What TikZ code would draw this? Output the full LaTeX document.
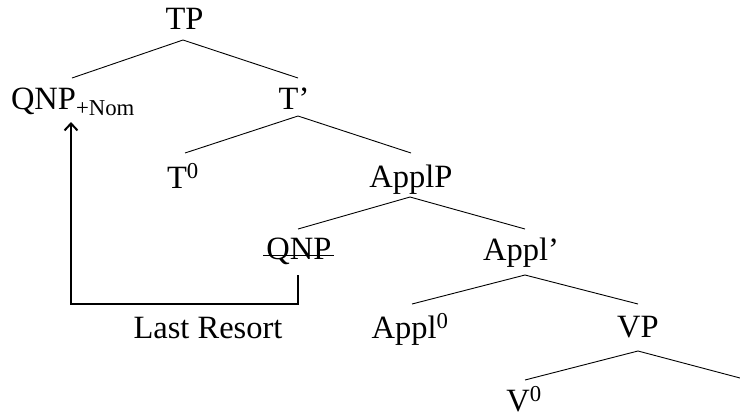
\documentclass[tikz,border=0pt]{standalone}
\usepackage{fontspec}
\setmainfont{Liberation Serif}
\usetikzlibrary{calc,arrows.meta}
\begin{document}
\begin{tikzpicture}[x=1pt,y=-1pt,
  lbl/.style={inner sep=0pt,outer sep=0pt,font=\fontsize{32.5}{38}\selectfont},
  branch/.style={line width=0.9pt},
  movearrow/.style={line width=2pt,-{Straight Barb[length=7pt,width=13pt,line width=2pt]}}]
\useasboundingbox (0,0) rectangle (740,418);
% nodes
\node[lbl,anchor=base] (TP) at (184.5,29) {TP};
\node[lbl,anchor=base west] (QNPn) at (11,109) {QNP\textsubscript{+Nom}};
\node[lbl,anchor=base] (Tbar) at (294,109) {T’};
\node[lbl,anchor=base] (T0) at (183,188) {T\textsuperscript{0}};
\node[lbl,anchor=base] (ApplP) at (411,187) {ApplP};
\node[lbl,anchor=base] (QNPt) at (299,259) {QNP};
\node[lbl,anchor=base] (Applbar) at (521,260) {Appl’};
\node[lbl,anchor=base] (Appl0) at (410,338) {Appl\textsuperscript{0}};
\node[lbl,anchor=base] (VP) at (638,337) {VP};
\node[lbl,anchor=base] (V0) at (524,411) {V\textsuperscript{0}};
\node[lbl,anchor=base] (LR) at (208,338) {Last Resort};
% strike through moved QNP
\draw[line width=0.9pt] ($(QNPt.base west)+(-3,-4)$) -- ($(QNPt.base east)+(2,-4)$);
% tree branches
\coordinate (TPa) at (183,40);
\coordinate (TPl) at (72,78);
\coordinate (TPr) at (298,78);
\coordinate (Tba) at (298,116);
\coordinate (Tbl) at (185,153);
\coordinate (Tbr) at (411,153);
\coordinate (APa) at (410,197);
\coordinate (APl) at (298,229);
\coordinate (APr) at (525,229);
\coordinate (Aba) at (525,275);
\coordinate (Abl) at (412,304);
\coordinate (Abr) at (638,304);
\coordinate (VPa) at (638,351);
\coordinate (VPl) at (525,380);
\coordinate (VPr) at (740,378);
\draw[branch] (TPl) -- (TPa) -- (TPr);
\draw[branch] (Tbl) -- (Tba) -- (Tbr);
\draw[branch] (APl) -- (APa) -- (APr);
\draw[branch] (Abl) -- (Aba) -- (Abr);
\draw[branch] (VPl) -- (VPa) -- (VPr);
% movement arrow
\coordinate (mvS) at (298,275);
\coordinate (mvE) at (71,122);
\draw[movearrow] (mvS) -- ++(0,29) -| (mvE);
\end{tikzpicture}
\end{document}
